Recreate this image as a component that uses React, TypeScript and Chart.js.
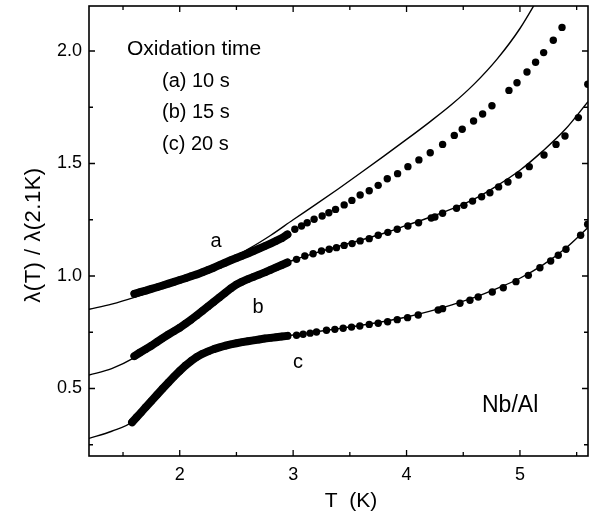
import React, { useEffect, useRef } from "react";
import { Chart, registerables } from "chart.js";
Chart.register(...registerables);

const FONT = '"Liberation Sans", Arial, Helvetica, sans-serif';

// axis ticks
const xMajorTicks = [2, 3, 4, 5];
const xMinorTicks = [1.5, 2.5, 3.5, 4.5, 5.5];
const yMajorTicks = [0.5, 1.0, 1.5, 2.0];
const yMinorTicks = [0.25, 0.75, 1.25, 1.75];

// (a) 10 s : measured points
const aDotsT = [1.60, 1.65, 1.70, 1.75, 1.80, 1.85, 1.90, 1.95, 2.00, 2.05, 2.10, 2.15, 2.20, 2.25, 2.30, 2.35, 2.40, 2.45, 2.50, 2.55, 2.60, 2.65, 2.70, 2.75, 2.80, 2.85, 2.90, 2.95,
  3.015, 3.074, 3.124, 3.185, 3.256, 3.315, 3.374, 3.45, 3.518, 3.591, 3.671, 3.75, 3.83, 3.921, 4.012, 4.109, 4.209, 4.318, 4.421, 4.491, 4.591, 4.671, 4.753, 4.903, 4.974, 5.062, 5.138, 5.209, 5.294, 5.371];
const aDotsV = [0.921, 0.928, 0.935, 0.943, 0.950, 0.958, 0.966, 0.974, 0.982, 0.990, 0.999, 1.007, 1.017, 1.027, 1.037, 1.048, 1.059, 1.070, 1.080, 1.090, 1.100, 1.111, 1.122, 1.133, 1.144, 1.156, 1.168, 1.185,
  1.208, 1.222, 1.237, 1.252, 1.267, 1.281, 1.296, 1.316, 1.336, 1.36, 1.379, 1.403, 1.432, 1.455, 1.486, 1.516, 1.548, 1.585, 1.625, 1.652, 1.689, 1.72, 1.757, 1.825, 1.859, 1.907, 1.95, 1.993, 2.048, 2.105];

// (b) 15 s : measured points
const bDotsT = [1.60, 1.65, 1.70, 1.75, 1.80, 1.85, 1.90, 1.95, 2.00, 2.05, 2.10, 2.15, 2.20, 2.25, 2.30, 2.35, 2.40, 2.45, 2.50, 2.55, 2.60, 2.65, 2.70, 2.75, 2.80, 2.85, 2.90, 2.95,
  3.03, 3.103, 3.176, 3.25, 3.318, 3.382, 3.45, 3.52, 3.591, 3.671, 3.75, 3.835, 3.918, 4.012, 4.106, 4.218, 4.25, 4.318, 4.441, 4.506, 4.582, 4.662, 4.735, 4.812, 4.894, 4.988, 5.082, 5.212, 5.318, 5.397, 5.515, 5.598];
const bDotsV = [0.644, 0.660, 0.675, 0.690, 0.707, 0.724, 0.740, 0.755, 0.770, 0.788, 0.806, 0.825, 0.845, 0.865, 0.885, 0.905, 0.925, 0.945, 0.962, 0.975, 0.986, 0.996, 1.006, 1.016, 1.027, 1.038, 1.049, 1.060,
  1.074, 1.089, 1.099, 1.111, 1.119, 1.126, 1.136, 1.144, 1.156, 1.166, 1.181, 1.194, 1.208, 1.222, 1.237, 1.258, 1.262, 1.279, 1.301, 1.314, 1.333, 1.352, 1.37, 1.396, 1.418, 1.449, 1.486, 1.538, 1.585, 1.622, 1.704, 1.852];

// (c) 20 s : measured points
const cDotsT = [1.58, 1.62, 1.66, 1.70, 1.75, 1.80, 1.85, 1.90, 1.95, 2.00, 2.05, 2.10, 2.15, 2.20, 2.25, 2.30, 2.35, 2.40, 2.45, 2.50, 2.55, 2.60, 2.65, 2.70, 2.75, 2.80, 2.85, 2.90, 2.95,
  3.03, 3.088, 3.15, 3.206, 3.294, 3.368, 3.441, 3.515, 3.588, 3.671, 3.75, 3.833, 3.918, 4.009, 4.103, 4.279, 4.318, 4.471, 4.559, 4.632, 4.756, 4.853, 4.965, 5.074, 5.176, 5.271, 5.338, 5.406, 5.535, 5.597];
const cDotsV = [0.350, 0.372, 0.394, 0.417, 0.444, 0.472, 0.500, 0.527, 0.553, 0.578, 0.602, 0.622, 0.640, 0.654, 0.665, 0.675, 0.683, 0.690, 0.696, 0.701, 0.706, 0.710, 0.714, 0.718, 0.722, 0.725, 0.728, 0.731, 0.734,
  0.737, 0.741, 0.746, 0.751, 0.759, 0.763, 0.768, 0.773, 0.778, 0.785, 0.79, 0.797, 0.806, 0.815, 0.827, 0.849, 0.855, 0.879, 0.892, 0.907, 0.929, 0.948, 0.975, 1.003, 1.037, 1.067, 1.092, 1.119, 1.181, 1.23];

// theoretical curves
const fitT = [1.2, 1.4, 1.6, 1.8, 2.0, 2.2, 2.4, 2.6, 2.8, 3.0, 3.2, 3.4, 3.6, 3.8, 4.0, 4.2, 4.4, 4.6, 4.8, 5.0, 5.2, 5.4, 5.6];
const aFitV = [0.852, 0.875, 0.905, 0.94, 0.978, 1.018, 1.062, 1.118, 1.18, 1.25, 1.318, 1.388, 1.46, 1.533, 1.607, 1.683, 1.763, 1.855, 1.965, 2.10, 2.27, 2.45, 2.65];
const bFitV = [0.56, 0.588, 0.637, 0.705, 0.77, 0.845, 0.927, 0.988, 1.03, 1.07, 1.103, 1.132, 1.16, 1.19, 1.225, 1.26, 1.298, 1.343, 1.402, 1.47, 1.555, 1.652, 1.775];
const cFitV = [0.278, 0.31, 0.358, 0.472, 0.578, 0.654, 0.69, 0.71, 0.725, 0.738, 0.752, 0.766, 0.781, 0.798, 0.818, 0.843, 0.872, 0.905, 0.945, 0.99, 1.048, 1.122, 1.215];

const DENSE_END = 2.96;

const toXY = (t: number[], v: number[]) => t.map((x, i) => ({ x, y: v[i] }));

const dotSet = (t: number[], v: number[]) => ({
  data: toXY(t, v),
  showLine: true,
  borderColor: "rgba(0,0,0,0)",
  borderWidth: 8,
  borderCapStyle: "round",
  borderJoinStyle: "round",
  segment: {
    borderColor: (s: any) =>
      s.p0.parsed.x < DENSE_END && s.p1.parsed.x < DENSE_END ? "#000" : "rgba(0,0,0,0)",
  },
  pointRadius: 3.7,
  pointBackgroundColor: "#000",
  pointBorderWidth: 0,
  pointBorderColor: "#000",
  clip: 0,
});
const lineSet = (t: number[], v: number[]) => ({
  data: toXY(t, v),
  showLine: true,
  borderColor: "#000",
  borderWidth: 1.4,
  pointRadius: 0,
  cubicInterpolationMode: "monotone",
  clip: 0,
});

const decor = {
  id: "decor",
  afterDraw(chart: any) {
    const { ctx, chartArea: a, scales } = chart;
    const xs = scales.x, ys = scales.y;
    ctx.save();
    ctx.strokeStyle = "#000";
    ctx.lineWidth = 1.6;
    ctx.strokeRect(a.left, a.top, a.right - a.left, a.bottom - a.top);
    ctx.lineWidth = 1.3;
    ctx.beginPath();
    const xt = (v: number, len: number) => {
      const p = xs.getPixelForValue(v);
      ctx.moveTo(p, a.bottom); ctx.lineTo(p, a.bottom - len);
      ctx.moveTo(p, a.top); ctx.lineTo(p, a.top + len);
    };
    const yt = (v: number, len: number) => {
      const p = ys.getPixelForValue(v);
      ctx.moveTo(a.left, p); ctx.lineTo(a.left + len, p);
      ctx.moveTo(a.right, p); ctx.lineTo(a.right - len, p);
    };
    xMajorTicks.forEach((v) => xt(v, 6));
    xMinorTicks.forEach((v) => xt(v, 4));
    yMajorTicks.forEach((v) => yt(v, 6));
    yMinorTicks.forEach((v) => yt(v, 4));
    ctx.stroke();

    ctx.fillStyle = "#000";
    ctx.textBaseline = "alphabetic";
    ctx.textAlign = "left";
    ctx.font = `21px ${FONT}`;
    ctx.fillText("Oxidation time", 127, 55);
    ctx.font = `20px ${FONT}`;
    ctx.fillText("(a) 10 s", 162, 87);
    ctx.fillText("(b) 15 s", 162, 118);
    ctx.fillText("(c) 20 s", 162, 150);
    ctx.textAlign = "center";
    ctx.fillText("a", 216, 247);
    ctx.fillText("b", 258, 313);
    ctx.fillText("c", 298, 368);
    ctx.textAlign = "left";
    ctx.font = `23px ${FONT}`;
    ctx.fillText("Nb/Al", 482, 412);

    ctx.font = `21px ${FONT}`;
    ctx.textAlign = "center";
    ctx.fillText("T  (K)", 351, 507);
    ctx.translate(40, 235);
    ctx.rotate(-Math.PI / 2);
    ctx.font = `22px ${FONT}`;
    try { (ctx as any).letterSpacing = "0.5px"; } catch (e) {}
    ctx.fillText("\u03BB(T) / \u03BB(2.1K)", 0, 0);
    ctx.restore();
  },
};

export default function App() {
  const ref = useRef<HTMLCanvasElement | null>(null);
  useEffect(() => {
    if (!ref.current) return;
    const chart = new Chart(ref.current, {
      type: "scatter",
      data: {
        datasets: [
          lineSet(fitT, aFitV),
          lineSet(fitT, bFitV),
          lineSet(fitT, cFitV),
          dotSet(aDotsT, aDotsV),
          dotSet(bDotsT, bDotsV),
          dotSet(cDotsT, cDotsV),
        ] as any,
      },
      options: {
        animation: false,
        responsive: false,
        maintainAspectRatio: false,
        layout: { padding: { top: 6, right: 7, left: 0, bottom: 0 } },
        plugins: { legend: { display: false }, tooltip: { enabled: false } },
        scales: {
          x: {
            type: "linear",
            min: 1.2,
            max: 5.6,
            grid: { display: false, drawTicks: false },
            border: { display: false },
            afterBuildTicks: (s: any) => { s.ticks = xMajorTicks.map((v) => ({ value: v })); },
            afterFit: (s: any) => { s.height = 60; s.paddingLeft = 0; s.paddingRight = 0; },
            ticks: {
              padding: 8,
              color: "#000",
              font: { family: FONT, size: 18 },
              callback: (v: any) => String(v),
              maxRotation: 0,
            },
          },
          y: {
            type: "linear",
            min: 0.2,
            max: 2.2,
            grid: { display: false, drawTicks: false },
            border: { display: false },
            afterBuildTicks: (s: any) => { s.ticks = yMajorTicks.map((v) => ({ value: v })); },
            afterFit: (s: any) => { s.width = 89; s.paddingTop = 0; s.paddingBottom = 0; },
            ticks: {
              padding: 7,
              color: "#000",
              font: { family: FONT, size: 18 },
              callback: (v: any) => Number(v).toFixed(1),
            },
          },
        },
      },
      plugins: [decor],
    });
    return () => chart.destroy();
  }, []);
  return (
    <div style={{ position: "fixed", left: 0, top: 0, width: 595, height: 516, background: "#fff" }}>
      <canvas ref={ref} width={595} height={516} style={{ width: 595, height: 516 }} />
    </div>
  );
}
